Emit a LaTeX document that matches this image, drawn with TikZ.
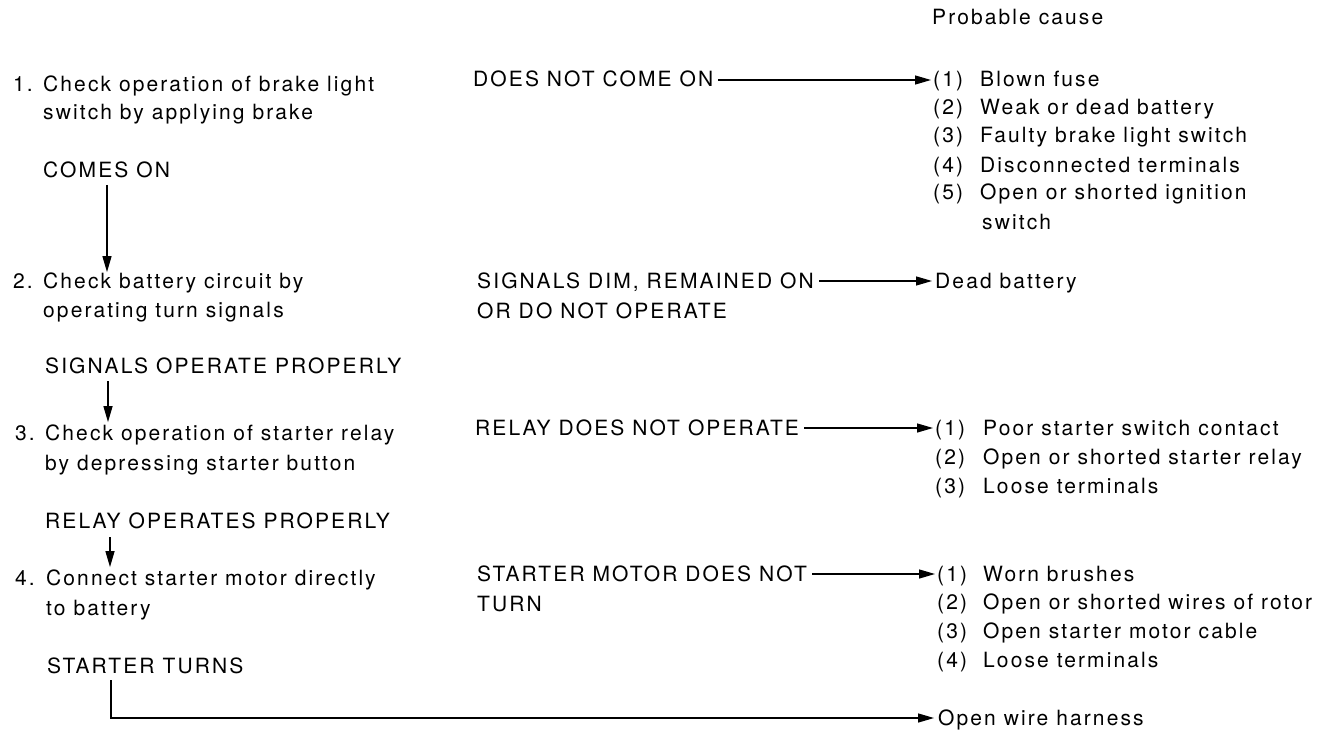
\documentclass[tikz,border=0pt]{standalone}
\usepackage{fontspec}
\setmainfont{TeX Gyre Heros}[LetterSpace=10]
\usetikzlibrary{arrows.meta}
\tikzset{
  txt/.style={anchor=base west, inner sep=0pt, font=\fontsize{21}{25}\selectfont},
  conn/.style={line width=1.3pt, -{Triangle[length=16pt,width=9pt]}},
  plain/.style={line width=1.3pt}
}
\begin{document}
\begin{tikzpicture}[x=1pt,y=-1pt]
\path[use as bounding box, fill=white] (0,0) rectangle (1332,730);

% ---- left column
\node[txt] (n1) at (13,92) {1.};
\node[txt] (L1a) at (43,92) {Check operation of brake light};
\node[txt] (L1b) at (43,120) {switch by applying brake};
\node[txt] (C1) at (43,178) {COMES ON};

\node[txt] (n2) at (13,288) {2.};
\node[txt] (L2a) at (43,288) {Check battery circuit by};
\node[txt] (L2b) at (43,317) {operating turn signals};
\node[txt] (C2) at (45,373) {SIGNALS OPERATE PROPERLY};

\node[txt] (n3) at (15,440) {3.};
\node[txt] (L3a) at (45,440) {Check operation of starter relay};
\node[txt] (L3b) at (45,470) {by depressing starter button};
\node[txt] (C3) at (45,528) {RELAY OPERATES PROPERLY};

\node[txt] (n4) at (15,585) {4.};
\node[txt] (L4a) at (46,585) {Connect starter motor directly};
\node[txt] (L4b) at (46,615) {to battery};
\node[txt] (C4) at (47,673) {STARTER TURNS};

% ---- middle column
\node[txt] (M1) at (473,87) {DOES NOT COME ON};
\node[txt] (M2a) at (477,288) {SIGNALS DIM, REMAINED ON};
\node[txt] (M2b) at (477,318) {OR DO NOT OPERATE};
\node[txt] (M3) at (475,435) {RELAY DOES NOT OPERATE};
\node[txt] (M4a) at (477,581) {STARTER MOTOR DOES NOT};
\node[txt] (M4b) at (477,611) {TURN};

% ---- right column
\node[txt] (PC) at (932,25) {Probable cause};

\node[txt] (R1n) at (933,87) {(1)};
\node[txt] at (980,87) {Blown fuse};
\node[txt] at (933,115) {(2)};
\node[txt] at (980,115) {Weak or dead battery};
\node[txt] at (933,143) {(3)};
\node[txt] at (980,143) {Faulty brake light switch};
\node[txt] at (933,172) {(4)};
\node[txt] at (980,172) {Disconnected terminals};
\node[txt] at (933,200) {(5)};
\node[txt] at (980,200) {Open or shorted ignition};
\node[txt] at (982,229) {switch};

\node[txt] (DB) at (935,288) {Dead battery};

\node[txt] (R3n) at (935,435) {(1)};
\node[txt] at (983,435) {Poor starter switch contact};
\node[txt] at (935,464) {(2)};
\node[txt] at (983,464) {Open or shorted starter relay};
\node[txt] at (935,493) {(3)};
\node[txt] at (983,493) {Loose terminals};

\node[txt] (R4n) at (937,581) {(1)};
\node[txt] at (983,581) {Worn brushes};
\node[txt] at (937,609) {(2)};
\node[txt] at (983,609) {Open or shorted wires of rotor};
\node[txt] at (937,638) {(3)};
\node[txt] at (983,638) {Open starter motor cable};
\node[txt] at (937,667) {(4)};
\node[txt] at (983,667) {Loose terminals};

\node[txt] (OW) at (938,725) {Open wire harness};

% ---- vertical flow arrows
\draw[conn] ([xshift=64pt,yshift=-7pt]C1.base west) -- ([xshift=64pt]L2a.north west);
\draw[conn] ([xshift=63pt,yshift=-8pt]C2.base west) -- ([xshift=63pt,yshift=2pt]L3a.north west);
\draw[conn] ([xshift=65pt,yshift=-9pt]C3.base west) -- ([xshift=64pt,yshift=2pt]L4a.north west);

% ---- horizontal arrows to causes
\draw[conn] ([xshift=5pt,yshift=7pt]M1.base east) -- ([xshift=-2pt,yshift=7pt]R1n.base west);
\draw[conn] ([xshift=5pt,yshift=7pt]M2a.base east) -- ([xshift=-3pt,yshift=7pt]DB.base west);
\draw[conn] ([xshift=5pt,yshift=7pt]M3.base east) -- ([xshift=-2pt,yshift=7pt]R3n.base west);
\draw[conn] ([xshift=5pt,yshift=7pt]M4a.base east) -- ([xshift=-2pt,yshift=7pt]R4n.base west);

% ---- starter turns -> open wire harness
\draw[conn] ([xshift=64pt,yshift=-7pt]C4.base west) |- ([xshift=-4pt,yshift=7pt]OW.base west);
\end{tikzpicture}
\end{document}
